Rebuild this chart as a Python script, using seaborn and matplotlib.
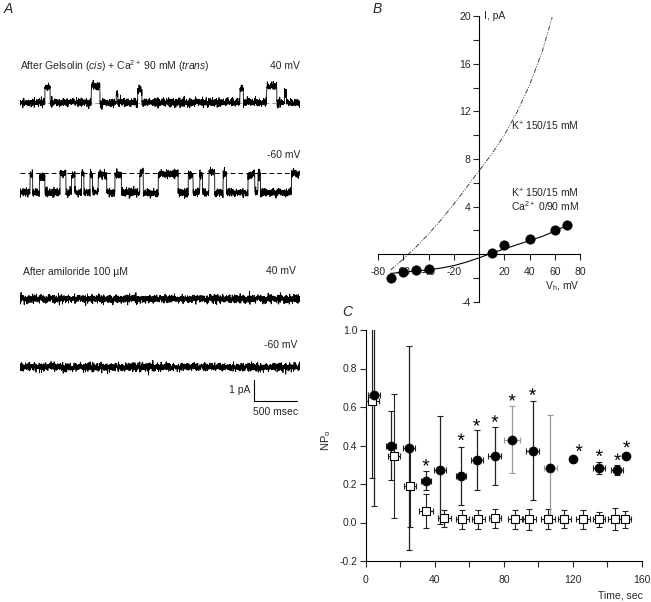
import numpy as np
import pandas as pd
import matplotlib
matplotlib.use('Agg')
import matplotlib.pyplot as plt
import seaborn as sns

sns.set_style('ticks')
plt.rcParams['font.family'] = ['Liberation Sans', 'DejaVu Sans']
plt.rcParams['mathtext.fontset'] = 'custom'
plt.rcParams['mathtext.rm'] = 'Liberation Sans'
plt.rcParams['mathtext.it'] = 'Liberation Sans:italic'
plt.rcParams['mathtext.bf'] = 'Liberation Sans:bold'
plt.rcParams['axes.unicode_minus'] = False

W, H = 651, 602
FS = 7.5

# ================= A: single channel traces =================
TRACE_DUR = 3.26      # s shown per trace
PA_PX = 21            # px per pA (scale bar)
NOISE_SD = 0.095      # pA, width of the recording noise band

# gelsolin + Ca, 40 mV : openings (start s, end s, level pA)
gel40_base = 0.0
gel40_events = [(0.29, 0.35, 0.76), (0.83, 0.93, 0.80), (1.12, 1.14, 0.45),
                (1.37, 1.42, 0.60), (2.56, 2.60, 0.65), (2.87, 2.99, 0.80),
                (3.08, 3.10, 0.50)]
# gelsolin + Ca, -60 mV : mostly open, closures back to the dashed level
gel60_base = -0.95
gel60_events = [(0.116, 0.147, -0.10), (0.225, 0.29, -0.20), (0.465, 0.535, -0.05),
                (0.60, 0.64, -0.10), (0.717, 0.744, 0.0), (0.814, 0.845, -0.10),
                (0.91, 1.01, -0.10), (1.105, 1.18, -0.10), (1.395, 1.434, 0.0),
                (1.61, 1.84, -0.05), (1.957, 2.015, -0.10), (2.093, 2.124, -0.10),
                (2.20, 2.267, 0.05), (2.364, 2.403, -0.05), (2.655, 2.733, -0.10),
                (2.77, 2.80, -0.10), (3.16, 3.26, -0.05)]
# after amiloride: no openings
amil40_events = []
amil60_events = []

# ================= B: I-V =================
iv_v = [-70, -60, -50, -40, 10, 20, 40, 60, 70]
iv_i = [-1.95, -1.5, -1.3, -1.2, 0.08, 0.8, 1.3, 2.07, 2.48]
fit_v = [-70, -60, -50, -40, -30, -20, -10, 0, 10, 20, 30, 40, 50, 60, 70]
fit_i = [-1.6, -1.5, -1.4, -1.3, -1.15, -0.95, -0.65, -0.3, 0.1, 0.45, 0.8, 1.15, 1.5, 1.95, 2.45]
k_v = [-70, -60, -50, -40, -30, -20, -10, 0, 10, 20, 30, 40, 50, 58]
k_i = [-1.3, -0.4, 0.6, 1.7, 2.9, 4.2, 5.6, 7.0, 8.4, 10.0, 11.9, 14.2, 17.0, 19.9]

# ================= C: NPo vs time =================
ca_t = [4.6, 14.5, 25.3, 34.9, 42.8, 55.3, 64.2, 74.8, 84.8, 96.6, 107, 119.9, 135.1, 145.7, 150.9]
ca_np = [0.664, 0.399, 0.388, 0.217, 0.272, 0.243, 0.326, 0.345, 0.431, 0.373, 0.281, 0.328, 0.284, 0.272, 0.348]
ca_yerr = [0.58, 0.18, 0.53, 0.05, 0.28, 0.15, 0.155, 0.15, 0.176, 0.258, 0.28, 0.0, 0.03, 0.025, 0.0]
ca_xerr = [3.5, 3.0, 3.5, 3.0, 3.5, 3.0, 3.5, 3.8, 4.8, 3.8, 3.5, 0.0, 3.5, 3.5, 0.0]
ca_gray = [False, False, False, False, False, False, False, False, True, False, True, False, False, False, False]

ctl_t = [3.5, 16.4, 25.6, 34.9, 45.5, 55.9, 65.3, 74.8, 86.6, 94.8, 105.4, 115.1, 125.9, 135.1, 144.2, 150.0]
ctl_np = [0.631, 0.345, 0.189, 0.062, 0.021, 0.016, 0.016, 0.021, 0.016, 0.016, 0.016, 0.016, 0.016, 0.016, 0.018, 0.016]
ctl_yerr = [0.40, 0.32, 0.21, 0.088, 0.045, 0.05, 0.05, 0.05, 0.048, 0.055, 0.052, 0.047, 0.05, 0.038, 0.055, 0.043]
ctl_xerr = [4.0, 3.5, 3.5, 4.0, 3.7, 3.7, 3.7, 3.5, 4.0, 4.0, 4.0, 3.7, 4.0, 3.7, 4.0, 3.7]

star_t = [34.9, 55.3, 64.2, 74.8, 84.8, 96.6, 123.6, 135.3, 145.9, 151.1]
star_y = [0.312, 0.445, 0.52, 0.54, 0.65, 0.68, 0.388, 0.362, 0.341, 0.407]


def px_rect(x0, y0, x1, y1):
    return [x0 / W, 1 - y1 / H, (x1 - x0) / W, (y1 - y0) / H]


def fig_text(x, y, s, **kw):
    kw.setdefault('fontsize', FS)
    kw.setdefault('va', 'center')
    fig.text(x / W, 1 - y / H, s, **kw)


def build_trace(events, base, seed, n=2400):
    t = np.linspace(0, TRACE_DUR, n)
    lev = np.full(n, base)
    for t0, t1, l in events:
        lev[(t >= t0) & (t <= t1)] = l
    rng = np.random.default_rng(seed)  # recording noise only
    return pd.DataFrame({'t': t, 'i': lev + rng.normal(0, NOISE_SD, n)})


def trace_axes(y_px, df):
    ax = fig.add_axes(px_rect(20, y_px - 40, 300, y_px + 40))
    sns.lineplot(data=df, x='t', y='i', ax=ax, color='black', lw=0.6,
                 estimator=None, sort=False)
    ax.set_xlim(0, TRACE_DUR)
    ax.set_ylim(-40 / PA_PX, 40 / PA_PX)
    ax.axis('off')
    return ax


fig = plt.figure(figsize=(W / 100, H / 100), dpi=100)

# ---------------- A ----------------
fig_text(4, 9, 'A', fontsize=10, style='italic')
fig_text(20, 66, r'After Gelsolin ($\mathit{cis}$) + Ca$^{2+}$ 90 mM ($\mathit{trans}$)')
fig_text(300, 66, '40 mV', ha='right')
fig_text(300, 155, '-60 mV', ha='right')
fig_text(23, 272, 'After amiloride 100 µM')
fig_text(296, 271, '40 mV', ha='right')
fig_text(297, 345, '-60 mV', ha='right')

a1 = trace_axes(102.5, build_trace(gel40_events, gel40_base, 1))
a1.axhline(0, color='#999999', lw=0.7, ls=(0, (4, 3)), zorder=0)
a2 = trace_axes(172.5, build_trace(gel60_events, gel60_base, 2))
a2.axhline(0, color='black', lw=0.7, ls=(0, (5, 3)), zorder=3)
a3 = trace_axes(299, build_trace(amil40_events, 0.0, 3))
a4 = trace_axes(367, build_trace(amil60_events, 0.0, 4))

# scale bar: 1 pA / 500 msec
a4.plot([2.72, 2.72, 3.22], [-0.62, -1.62, -1.62], color='black', lw=0.8, clip_on=False)
a4.text(2.68, -1.1, '1 pA', ha='right', va='center', fontsize=FS)
a4.text(2.97, -2.12, '500 msec', ha='center', va='center', fontsize=FS)

# ---------------- B ----------------
fig_text(373, 9, 'B', fontsize=10, style='italic')
axB = fig.add_axes(px_rect(378, 16, 580, 302))
sns.lineplot(x=k_v, y=k_i, ax=axB, color='#444444', lw=0.7,
             linestyle=(0, (5, 1.5, 1, 1.5, 1, 1.5)))
sns.lineplot(x=fit_v, y=fit_i, ax=axB, color='black', lw=0.8)
sns.scatterplot(x=iv_v, y=iv_i, ax=axB, color='black', s=45, edgecolor='black', zorder=4)
axB.set_xlim(-80, 80)
axB.set_ylim(-4, 20)
axB.spines['left'].set_position(('data', 0))
axB.spines['bottom'].set_position(('data', 0))
axB.spines['right'].set_visible(False)
axB.spines['top'].set_visible(False)
axB.set_xticks([-80, -60, -40, -20, 20, 40, 60, 80])
axB.set_yticks([-4, 4, 8, 12, 16, 20])
axB.set_yticks([-2, 2, 6, 10, 14, 18], minor=True)
axB.tick_params(labelsize=FS, length=4, width=0.8, direction='out', pad=2)
axB.tick_params(axis='x', pad=5)
axB.tick_params(which='minor', length=4, width=0.8)
axB.set_xlabel('')
axB.set_ylabel('')
axB.text(4, 20, 'I, pA', ha='left', va='center', fontsize=FS)
axB.text(80, -2.7, r'V$_{\mathrm{h}}$, mV', ha='right', va='center', fontsize=FS)
axB.text(25.3, 10.7, 'K$^{+}$ 150/15 mM', ha='left', va='center', fontsize=FS)
axB.text(25.3, 5.15, 'K$^{+}$ 150/15 mM', ha='left', va='center', fontsize=FS)
axB.text(25.3, 4.05, 'Ca$^{2+}$ 0/90 mM', ha='left', va='center', fontsize=FS)
for sp in ['left', 'bottom']:
    axB.spines[sp].set_linewidth(0.8)
    axB.spines[sp].set_color('black')

# ---------------- C ----------------
fig_text(342, 312, 'C', fontsize=10, style='italic')
axC = fig.add_axes(px_rect(365.7, 330, 642, 561))
for t, v, ye, xe in zip(ctl_t, ctl_np, ctl_yerr, ctl_xerr):
    axC.errorbar(t, v, yerr=ye, xerr=xe, fmt='none', ecolor='#222222',
                 elinewidth=0.8, capsize=2.5, capthick=0.8, zorder=2)
for t, v, ye, xe, g in zip(ca_t, ca_np, ca_yerr, ca_xerr, ca_gray):
    axC.errorbar(t, v, yerr=ye if ye else None, xerr=xe if xe else None, fmt='none',
                 ecolor='#9a9a9a' if g else '#222222',
                 elinewidth=0.9, capsize=2.5, capthick=0.8, zorder=2)
sns.scatterplot(x=ctl_t, y=ctl_np, ax=axC, marker='s', s=34, color='white',
                edgecolor='black', linewidth=0.8, zorder=3)
sns.scatterplot(x=ca_t, y=ca_np, ax=axC, marker='o', s=42, color='black',
                edgecolor='black', zorder=4)
sns.scatterplot(x=star_t, y=star_y, ax=axC, marker='$*$', s=24, color='black',
                edgecolor='none', zorder=4)
axC.set_xlim(0, 160)
axC.set_ylim(-0.2, 1.0)
axC.spines['right'].set_visible(False)
axC.spines['top'].set_visible(False)
for sp in ['left', 'bottom']:
    axC.spines[sp].set_linewidth(0.8)
    axC.spines[sp].set_color('black')
axC.set_xticks([0, 40, 80, 120, 160])
axC.set_xticks([20, 60, 100, 140], minor=True)
axC.set_yticks([-0.2, 0.0, 0.2, 0.4, 0.6, 0.8, 1.0])
axC.set_yticklabels(['-0.2', '0.0', '0.2', '0.4', '0.6', '0.8', '1.0'])
axC.tick_params(labelsize=FS, length=4, width=0.8, direction='out', pad=2)
axC.tick_params(axis='x', pad=6)
axC.tick_params(which='minor', length=4, width=0.8)
axC.set_xlabel('')
axC.set_ylabel('')
fig_text(326, 440, r'NP$_{\mathrm{o}}$', rotation=90, ha='center', fontsize=8)
fig_text(643, 595, 'Time, sec', ha='right')

fig.savefig('out.png', dpi=100)
